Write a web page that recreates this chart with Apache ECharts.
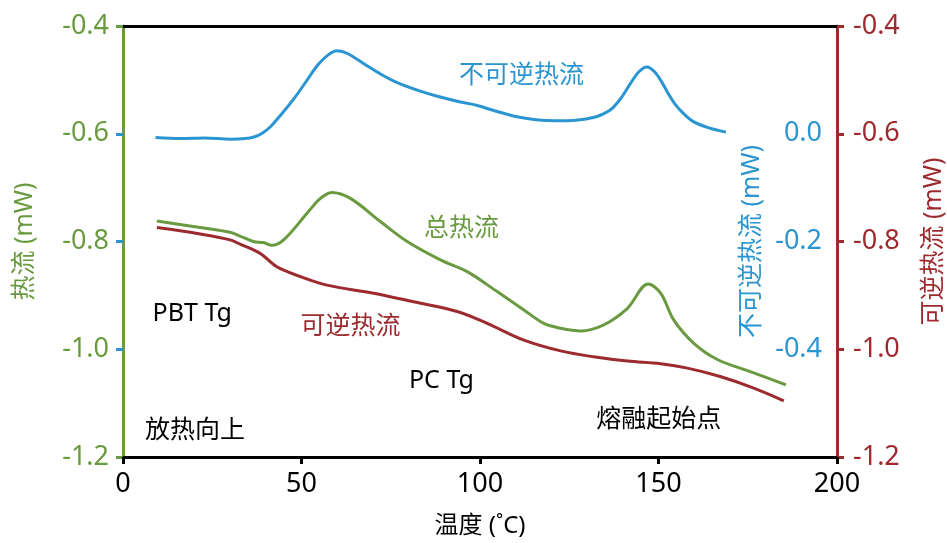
<!DOCTYPE html>
<html>
<head>
<meta charset="utf-8">
<style>
  html, body { margin: 0; padding: 0; background: #ffffff; }
  #chart { width: 947px; height: 543px; }
</style>
<script src="https://cdn.jsdelivr.net/npm/echarts@6/dist/echarts.min.js"></script>
</head>
<body>
<div id="chart"></div>
<script>
// Temperature (°C) / heat flow (mW) pairs for each MDSC signal
const totalHeatFlow = [
  [9.5, -0.762], [21.6, -0.774], [30.0, -0.783], [32.8, -0.790], [36.5, -0.800],
  [39.3, -0.802], [41.7, -0.807], [45.0, -0.797], [51.5, -0.748], [55.3, -0.720],
  [58.5, -0.709], [63.7, -0.720], [72.1, -0.763], [79.6, -0.800], [88.9, -0.834],
  [96.4, -0.856], [104.8, -0.893], [112.3, -0.927], [117.9, -0.952], [122.6, -0.961],
  [128.2, -0.966], [134.6, -0.955], [141.3, -0.924], [147.1, -0.879], [150.6, -0.896],
  [154.3, -0.946], [159.9, -0.989], [166.5, -1.019], [175.9, -1.042], [185.7, -1.066]
];

const reversingHeatFlow = [
  [9.5, -0.774], [21.6, -0.786], [30.0, -0.797], [32.8, -0.805], [38.4, -0.822],
  [43.1, -0.847], [49.6, -0.865], [57.1, -0.881], [70.2, -0.896], [81.4, -0.912],
  [93.6, -0.930], [102.0, -0.952], [112.3, -0.983], [122.6, -1.003], [131.8, -1.014],
  [141.3, -1.022], [150.6, -1.027], [158.1, -1.035], [167.5, -1.051], [176.7, -1.072],
  [185.1, -1.096]
];

const nonReversingHeatFlow = [
  [9.1, -0.007], [16.0, -0.009], [23.0, -0.008], [30.0, -0.010], [34.2, -0.009],
  [36.7, -0.006], [39.0, 0.001], [41.3, 0.013], [44.6, 0.038], [48.0, 0.066],
  [51.3, 0.097], [54.6, 0.128], [57.4, 0.146], [59.9, 0.154], [62.9, 0.149],
  [67.9, 0.128], [72.1, 0.111], [76.8, 0.095], [83.3, 0.079], [87.8, 0.070],
  [94.5, 0.059], [99.0, 0.053], [103.4, 0.044], [110.0, 0.032], [115.6, 0.026],
  [121.2, 0.024], [126.8, 0.025], [132.3, 0.031], [135.5, 0.040], [137.2, 0.048],
  [139.7, 0.068], [142.2, 0.094], [144.5, 0.115], [146.7, 0.124], [148.9, 0.115],
  [151.1, 0.094], [152.6, 0.076], [154.4, 0.057], [157.1, 0.037], [159.9, 0.022],
  [164.1, 0.011], [168.9, 0.003]
];

// Tick values
const xTicks = [0, 50, 100, 150, 200];
const heatFlowTicks = [-1.2, -1.0, -0.8, -0.6, -0.4];
const nonRevTicks = [-0.4, -0.2, 0.0];

// Annotations: [temperature, heat flow on the left scale, text, colour key]
const notes = [
  [111.6, -0.493, '不可逆热流', 'blue'],
  [94.8, -0.777, '总热流', 'green'],
  [63.7, -0.959, '可逆热流', 'red'],
  [19.4, -0.935, 'PBT Tg', 'black'],
  [89.2, -1.059, 'PC Tg', 'black'],
  [150.1, -1.131, '熔融起始点', 'black'],
  [20.2, -1.152, '放热向上', 'black']
];

const C = {
  green: '#6a9a40',
  red: '#9c2a2f',
  blue: '#2b95d1',
  black: '#000000'
};

const FONT = '"Noto Sans", "Noto Sans CJK SC", sans-serif';
const fmt = v => v.toFixed(1);

const chart = echarts.init(document.getElementById('chart'), null, { renderer: 'canvas' });

chart.setOption({
  animation: false,
  backgroundColor: '#ffffff',
  textStyle: { fontFamily: FONT },
  grid: { left: 123, right: 110, top: 26, bottom: 86, containLabel: false, outerBoundsMode: 'none' },
  xAxis: [
    {
      type: 'value', min: xTicks[0], max: xTicks[xTicks.length - 1], interval: 50,
      name: '温度 (˚C)', nameLocation: 'middle', nameGap: 57,
      nameTextStyle: { color: C.black, fontSize: 24, fontFamily: FONT },
      axisLine: { show: true, onZero: false, lineStyle: { color: C.black, width: 3 } },
      axisTick: { show: true, inside: false, length: 7, lineStyle: { color: C.black, width: 3 } },
      axisLabel: { color: C.black, fontSize: 27, margin: 14, fontFamily: FONT },
      splitLine: { show: false }
    },
    {
      type: 'value', position: 'top', min: 0, max: 200,
      axisLine: { show: true, onZero: false, lineStyle: { color: C.black, width: 3 } },
      axisTick: { show: false }, axisLabel: { show: false }, splitLine: { show: false }
    }
  ],
  yAxis: [
    {
      type: 'value', position: 'left', min: heatFlowTicks[0], max: heatFlowTicks[heatFlowTicks.length - 1], interval: 0.2,
      name: '热流 (mW)', nameLocation: 'middle', nameGap: 86,
      nameTextStyle: { color: C.green, fontSize: 25, fontFamily: FONT },
      axisLine: { show: true, onZero: false, lineStyle: { color: C.green, width: 3 } },
      axisTick: { show: true, length: 7, lineStyle: { color: C.green, width: 3 } },
      axisLabel: { color: C.green, fontSize: 27, margin: 14, formatter: fmt, fontFamily: FONT },
      splitLine: { show: false }
    },
    {
      type: 'value', position: 'right', min: heatFlowTicks[0], max: heatFlowTicks[heatFlowTicks.length - 1], interval: 0.2,
      name: '可逆热流 (mW)', nameLocation: 'middle', nameGap: 84,
      nameTextStyle: { color: C.red, fontSize: 25, fontFamily: FONT },
      axisLine: { show: true, onZero: false, lineStyle: { color: C.red, width: 3 } },
      axisTick: { show: true, length: 7, lineStyle: { color: C.red, width: 3 } },
      axisLabel: { color: C.red, fontSize: 27, margin: 16, formatter: fmt, fontFamily: FONT },
      splitLine: { show: false }
    },
    {
      type: 'value', position: 'right', min: -0.6, max: 0.2, interval: 0.2,
      name: '不可逆热流 (mW)', nameLocation: 'middle', nameGap: -98, nameMoveOverlap: false,
      nameTextStyle: { color: C.blue, fontSize: 25, fontFamily: FONT },
      axisLine: { show: false },
      axisTick: { show: true, inside: true, length: 7, customValues: nonRevTicks,
                  lineStyle: { color: C.blue, width: 3 } },
      axisLabel: { show: true, inside: true, color: C.blue, fontSize: 27, margin: 15,
                   customValues: nonRevTicks, formatter: fmt, fontFamily: FONT },
      splitLine: { show: false }
    }
  ],
  series: [
    {
      name: '不可逆热流', type: 'line', xAxisIndex: 0, yAxisIndex: 2,
      data: nonReversingHeatFlow, smooth: 0.3, symbol: 'none',
      lineStyle: { color: C.blue, width: 3 }, z: 3
    },
    {
      name: '总热流', type: 'line', xAxisIndex: 0, yAxisIndex: 0,
      data: totalHeatFlow, smooth: 0.35, symbol: 'none',
      lineStyle: { color: C.green, width: 3 }, z: 3
    },
    {
      name: '可逆热流', type: 'line', xAxisIndex: 0, yAxisIndex: 1,
      data: reversingHeatFlow, smooth: 0.35, symbol: 'none',
      lineStyle: { color: C.red, width: 3 }, z: 3
    },
    {
      name: 'notes', type: 'scatter', xAxisIndex: 0, yAxisIndex: 0,
      silent: true, symbolSize: 0,
      itemStyle: { opacity: 1 },
      data: notes.map(n => ({
        value: [n[0], n[1]],
        label: {
          show: true, position: 'inside', formatter: n[2],
          color: C[n[3]], opacity: 1, fontSize: 25, fontFamily: FONT,
          textBorderWidth: 0, textShadowBlur: 0
        }
      })),
      z: 4
    }
  ]
});
</script>
</body>
</html>
